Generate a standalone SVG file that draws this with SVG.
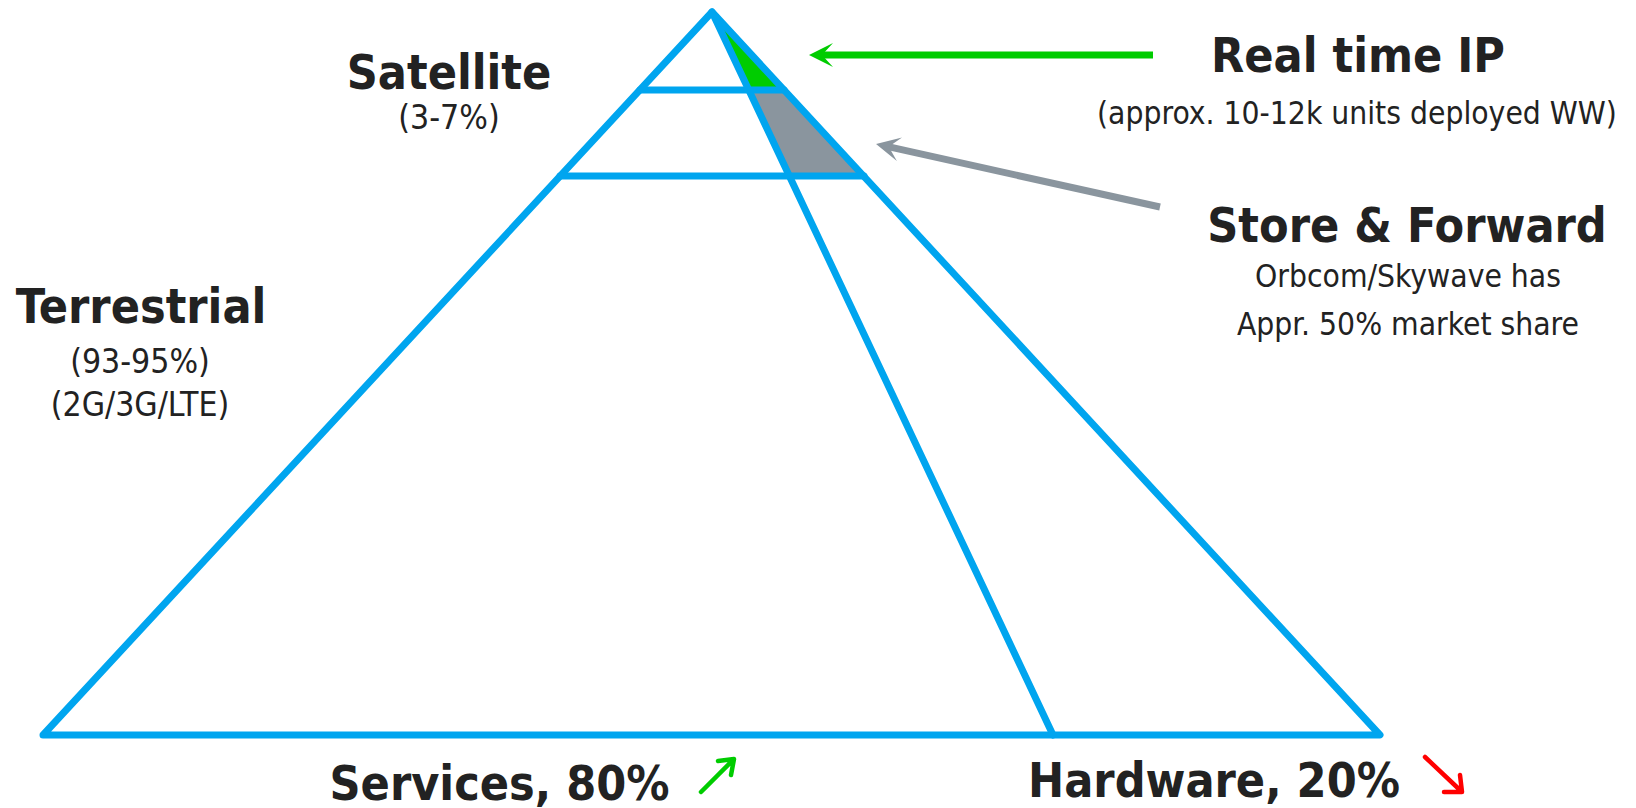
<svg xmlns="http://www.w3.org/2000/svg" width="1636" height="808" viewBox="0 0 1636 808">
<style>
.edge{fill:none;stroke:#00a5ef;stroke-width:7;stroke-linejoin:round;stroke-linecap:round}
.t{font-family:"DejaVu Sans Condensed","DejaVu Sans",sans-serif;fill:#222;text-anchor:middle}
.b{font-weight:bold;font-size:48px}
.r{font-size:31.5px}
.l{font-size:33.5px}
</style>
<defs>
<marker id="ag" viewBox="0 0 24 24" refX="14" refY="12" markerWidth="24" markerHeight="24" markerUnits="userSpaceOnUse" orient="auto"><path d="M24,12 L0,0 L11,12 L0,24 Z" fill="#00cc00"/></marker>
<marker id="ay" viewBox="0 0 24 24" refX="14" refY="12" markerWidth="24" markerHeight="24" markerUnits="userSpaceOnUse" orient="auto"><path d="M24,12 L0,0 L11,12 L0,24 Z" fill="#8a959e"/></marker>
</defs>
<rect width="1636" height="808" fill="#fff"/>
<g id="pyramid">
<polygon points="712,12 749,90 784,90" fill="#00cc00"/>
<polygon points="749,90 784,90 864,176 789,176" fill="#8a959e"/>
<path class="edge" d="M43,735 L712,12 L1380,735 Z"/>
<line class="edge" x1="712" y1="12" x2="1053" y2="735"/>
<line class="edge" x1="640" y1="90" x2="784" y2="90"/>
<line class="edge" x1="560" y1="176" x2="864" y2="176"/>
</g>
<g id="connectors">
<line x1="1153" y1="55" x2="819" y2="55" stroke="#00cc00" stroke-width="7" marker-end="url(#ag)"/>
<line x1="1160" y1="207" x2="885.8" y2="146.2" stroke="#8a959e" stroke-width="7" marker-end="url(#ay)"/>
<g stroke-width="4.5" stroke-linecap="round" fill="none" stroke-linejoin="round">
<path d="M701,792 L733,760 M718,761 L734,759 L731,775" stroke="#00cc00"/>
<path d="M1425,757 L1461,791 M1444,792 L1462,792 L1460,775" stroke="#ff0000"/>
</g>
</g>
<g id="satellite"><text class="t b" x="449" y="89">Satellite</text><text class="t l" x="449" y="129">(3-7%)</text></g>
<g id="terrestrial"><text class="t b" x="141" y="323">Terrestrial</text><text class="t l" x="140" y="373">(93-95%)</text><text class="t l" x="140" y="416">(2G/3G/LTE)</text></g>
<g id="realtime"><text class="t b" x="1358" y="72">Real time IP</text><text class="t r" x="1357" y="124">(approx. 10-12k units deployed WW)</text></g>
<g id="storeforward"><text class="t b" x="1407" y="242">Store &amp; Forward</text><text class="t r" x="1408" y="287">Orbcom/Skywave has</text><text class="t r" x="1408" y="335">Appr. 50% market share</text></g>
<g id="services"><text class="t b" x="499.5" y="800">Services, 80%</text></g>
<g id="hardware"><text class="t b" x="1214" y="797">Hardware, 20%</text></g>
</svg>
